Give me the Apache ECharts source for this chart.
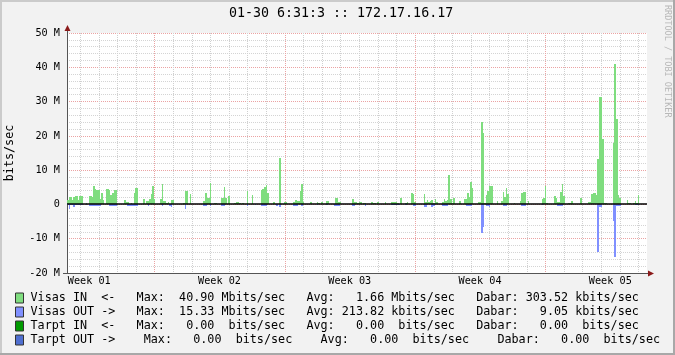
<!DOCTYPE html>
<html><head><meta charset="utf-8">
<script src="https://cdn.jsdelivr.net/npm/echarts@6/dist/echarts.min.js"></script>
<style>html,body{margin:0;padding:0;background:#f2f2f2}#c{width:675px;height:355px}</style>
</head><body><div id="c"></div>
<script>
// ---- data (2-hour averages, Mbits/sec) ----
const STEP_HOURS = 2;
const visasIn = [
1.2,2.1,2.1,1.4,2.1,2.4,2.4,1.4,2.4,2.4,
0,0,0.4,0,2.4,2.4,2.2,5.4,4.4,4.2,
4.2,1.6,3.2,1.2,0,4.5,4.5,4.1,2.7,3.2,
4.1,4.1,0,0,0,0,0,1.2,0.8,0.6,
0,0.4,0,3.2,4.8,4.8,0,0,0,1.5,
0,1.0,1.0,1.7,3.0,5.4,1.7,0,0,0,
1.7,6.0,1.0,1.0,0.5,0.7,0,1.4,1.4,0,
0,0,0,0,0,0.5,3.9,3.9,0,3.0,
0,0,0,0,0,0,0,0,0.9,3.2,
1.9,1.9,6.3,0,0,0.3,0.3,0,0,1.9,
1.9,5.1,1.9,0,2.6,0,0,0,0.5,0.8,
0.8,0.5,0,0.4,0.2,0,3.9,0,0,2.7,
0,0,0,0,0,4.2,4.4,5.2,5.8,3.2,
0,0,0,0.6,0,0,0,13.5,0,0,
0.6,0.6,0,0,0,0,0.8,1.4,1.0,1.0,
4.0,6.0,0.7,0,0,0,0,0.8,0,0,
0,0.6,0.3,0,0.7,0,0,0.9,0.9,0,
0,0,0,1.8,1.8,0.7,0.7,0,0,0,
0.2,0.2,0,0,1.5,0.7,0.7,0.4,0.7,0.7,
0,0.4,0.4,0,0,0,0.6,0.3,0.3,0,
0.6,0,0,0,0,0.6,0,0,0,0.6,
0.6,0.6,0.6,0.3,0,1.8,0,0,0.4,0.6,
0,0,3.3,3.0,0.7,0,0,0,0.2,0,
3.0,0.7,1.4,0.7,1.0,1.2,0.5,1.5,0.6,0,
0,0,0.6,1.6,0.9,1.3,8.6,1.7,0.4,1.8,
0,0,0,1.0,0,0,1.6,1.6,3.2,2.2,
6.5,4.9,0,0,0,0.7,0.7,24.1,20.7,0.5,
2.7,3.9,5.4,5.4,5.4,0,0,1.0,0,0,
1.0,3.6,2.2,4.8,3.0,0,0,0,0.3,0,
0,0,1.0,3.2,3.6,3.6,0,1.0,0,0,
0,0,0,0,0,0,1.6,1.9,5.3,0.5,
0,0,0,0,2.4,1.9,0.8,0.8,3.7,6.1,
2.5,0,0,0.3,0.3,1.0,0,0,0,0,
0,2.0,0,0,0,0,0.8,0.8,2.9,3.2,
3.2,2.7,13.2,31.2,31.2,19.0,0.5,0.5,0,0,
0,0,17.8,40.9,24.8,2.7,1.9,0,0,0,
0,1.3,0.3,0.3,0,0.5,1.0,0.5,2.7,0,
0,0,0,0
];
const visasOut = [
0.3,1.4,0.3,0.3,0.8,0.3,0.3,0.3,0.3,0.3,
0,0,0.3,0,0.5,0.5,0.5,0.5,0.5,0.5,
0.5,0.5,0,0,0,0,0,0.5,0.5,0.5,
0.5,0.5,0,0,0,0,0,0,0,0.5,
0.5,0.5,0.5,0.5,0.5,0.5,0,0,0,0,
0,0,0.4,0,0,0,0,0,0,0,
0,0.4,0,0,0,0,0.5,0.8,0,0,
0,0,0,0,0,0,1.4,0,0,0,
0,0,0,0,0,0,0,0,0.4,0.4,
0,0,0.4,0,0,0,0,0,0,0.5,
0.5,0.5,0,0,0,0,0,0,0,0,
0,0,0,0,0,0,0.4,0,0,0,
0,0.3,0,0,0,0.5,0.5,0.5,0.5,0,
0,0,0,0,0,0.4,0,0.8,0,0,
0,0,0,0,0,0,0.4,0.4,0.4,0,
0,0.4,0,0,0,0,0,0,0,0,
0,0.3,0,0,0,0,0,0.3,0,0,
0,0,0.4,0.4,0.4,0.4,0,0,0,0,
0,0,0,0,0.4,0.4,0,0,0,0,
0,0,0.4,0,0,0,0,0,0,0,
0,0,0,0,0,0,0,0,0,0.3,
0.3,0.3,0.3,0.3,0.3,0,0,0,0.3,0,
0,0,0,0.4,0.4,0,0,0,0,0,
0.8,0.8,0,0,0,0.8,0.4,0,0,0,
0,0,0.4,0.4,0.4,0.4,0,0,0,0,
0,0,0,0,0,0,0,0.4,0.4,0.4,
0.4,0,0,0,0,0,0,8.3,6.7,0,
0.4,0.4,0.7,0,0,0,0,0,0,0,
0,0.4,0.4,0.4,0,0,0,0,0,0,
0,0,0,0.4,0.4,0.4,0,0,0,0,
0,0,0,0,0,0,0.3,0,0,0,
0,0,0,0,0,0,0.4,0.4,0.4,0.4,
0,0,0,0,0,0,0,0,0,0,
0,0,0,0,0,0,0,0,0,0,
0,0,14.0,0.7,0.7,0,0,0,0,0,
0,0,4.8,15.33,0.4,0.4,0.4,0,0,0,
0,0,0,0,0,0,0.3,0.3,0.3,0,
0,0,0,0
];
const tarptIn = [];   // all zero in the period
const tarptOut = [];  // all zero in the period

// ---- axes / text ----
const TOTAL_HOURS = 748;
const weekLabels = ['Week 01','Week 02','Week 03','Week 04','Week 05'];
const weekMidHours = [28.7,196.7,364.7,532.7,700.7];
const weekBoundaryHours = [112.7,280.7,448.7,616.7];
const firstMidnightHour = 16.7;
const yMin = -20, yMax = 50, yStep = 10;
const titleText = '01-30 6:31:3 :: 172.17.16.17';
const yName = 'bits/sec';
const seriesNames = ['Visas IN','Visas OUT','Tarpt IN','Tarpt OUT'];
const legendRows = [
 'Visas IN  <-   Max:  40.90 Mbits/sec   Avg:   1.66 Mbits/sec   Dabar: 303.52 kbits/sec',
 'Visas OUT ->   Max:  15.33 Mbits/sec   Avg: 213.82 kbits/sec   Dabar:   9.05 kbits/sec',
 'Tarpt IN  <-   Max:   0.00  bits/sec   Avg:   0.00  bits/sec   Dabar:   0.00  bits/sec',
 'Tarpt OUT ->    Max:   0.00  bits/sec    Avg:   0.00  bits/sec    Dabar:   0.00  bits/sec'
];
const colors = ['#7fdd7f','#8090ff','#009a00','#4f6fd0'];
const watermark = 'RRDTOOL / TOBI OETIKER';

const dayLineHours = [];
for (let h = firstMidnightHour; h < TOTAL_HOURS; h += 24) dayLineHours.push(h);

const MONO = 'DejaVu Sans Mono';
const chart = echarts.init(document.getElementById('c'), null, {renderer: 'canvas'});

// one rectangle per 2-hour sample, snapped to whole pixels like rrdtool
function areaSeries(name, values, sign, color) {
  return {
    name, type: 'custom', silent: true, z: 3,
    itemStyle: {color},
    data: values.map((v, i) => [i * STEP_HOURS, sign * v]),
    renderItem: (params, api) => {
      const t = api.value(0), v = api.value(1);
      if (!v) return null;
      const p0 = api.coord([t, 0]);
      const p1 = api.coord([t + STEP_HOURS, v]);
      const x0 = Math.round(p0[0]), x1 = Math.round(p1[0]);
      const y0 = Math.round(p0[1]), y1 = Math.round(p1[1]);
      return {
        type: 'rect',
        shape: {x: x0, y: Math.min(y0, y1), width: x1 - x0, height: Math.abs(y1 - y0)},
        style: {fill: color}
      };
    }
  };
}

function vGridSeries(hours, color) {
  return {
    type: 'custom', silent: true, z: 1, clip: false,
    data: hours.map(h => [h]),
    renderItem: (params, api) => {
      const top = api.coord([api.value(0), yMax]);
      const bot = api.coord([api.value(0), yMin]);
      const x = Math.round(top[0]) + 0.5;
      return {
        type: 'line',
        shape: {x1: x, y1: top[1], x2: x, y2: bot[1]},
        style: {stroke: color, lineWidth: 1, lineDash: [1, 1]}
      };
    }
  };
}

const zeroRule = {
  type: 'custom', silent: true, z: 5, clip: false,
  data: [[0, 0]],
  renderItem: (params, api) => {
    const a = api.coord([0, 0]);
    const b = api.coord([TOTAL_HOURS, 0]);
    const y = Math.round(a[1]);
    return {type: 'line', shape: {x1: a[0], y1: y, x2: b[0], y2: y},
            style: {stroke: '#000', lineWidth: 1.5}};
  }
};

chart.setOption({
  animation: false,
  backgroundColor: '#f2f2f2',
  title: {
    text: titleText, left: 229, top: 7, padding: 0,
    textStyle: {fontFamily: MONO, fontSize: 13.3, fontWeight: 'normal', color: '#000'}
  },
  grid: {left: 67, right: 28, top: 33, bottom: 82, containLabel: false, outerBoundsMode: 'none',
         show: true, backgroundColor: '#ffffff', borderWidth: 0},
  legend: {
    orient: 'vertical', left: 15, top: 292, padding: 0, itemWidth: 8, itemHeight: 10, itemGap: 2,
    icon: 'rect', selectedMode: false, data: seriesNames,
    itemStyle: {borderColor: '#333', borderWidth: 1},
    textStyle: {fontFamily: MONO, fontSize: 11.75, color: '#000', lineHeight: 12, padding: [0, 0, 0, 2]},
    formatter: name => legendRows[seriesNames.indexOf(name)]
  },
  xAxis: {
    type: 'value', min: 0, max: TOTAL_HOURS,
    axisLine: {show: true, onZero: false, lineStyle: {color: '#555', width: 1}},
    axisTick: {show: false, customValues: weekMidHours},
    axisLabel: {
      customValues: weekMidHours, margin: 3,
      fontFamily: MONO, fontSize: 10.2, color: '#000',
      formatter: v => {
        const i = weekMidHours.findIndex(w => Math.abs(w - v) < 0.01);
        return i >= 0 ? weekLabels[i] : '';
      }
    },
    splitLine: {show: false}
  },
  yAxis: {
    type: 'value', min: yMin, max: yMax, interval: yStep,
    name: yName, nameLocation: 'middle', nameRotate: 90, nameGap: 51,
    nameTextStyle: {fontFamily: MONO, fontSize: 11.75, color: '#000'},
    axisLine: {show: true, lineStyle: {color: '#555', width: 1}},
    axisTick: {show: false},
    axisLabel: {
      margin: 7, fontFamily: MONO, fontSize: 10.2, color: '#000',
      formatter: v => v === 0 ? '0' : v + ' M'
    },
    splitLine: {show: true, lineStyle: {color: '#eba3a3', width: 1, type: [1, 1]}},
    minorTick: {show: false, splitNumber: 5},
    minorSplitLine: {show: true, lineStyle: {color: '#d4d4d4', width: 1, type: [1, 1]}}
  },
  series: [
    vGridSeries(dayLineHours, '#d0d0d0'),
    vGridSeries(weekBoundaryHours, '#eba3a3'),
    areaSeries(seriesNames[0], visasIn, 1, colors[0]),
    areaSeries(seriesNames[1], visasOut, -1, colors[1]),
    areaSeries(seriesNames[2], tarptIn, 1, colors[2]),
    areaSeries(seriesNames[3], tarptOut, -1, colors[3]),
    zeroRule
  ],
  graphic: [
    {type: 'rect', shape: {x: 0, y: 0, width: 675, height: 2}, style: {fill: '#cbcbcb'}, silent: true},
    {type: 'rect', shape: {x: 0, y: 0, width: 2, height: 355}, style: {fill: '#cbcbcb'}, silent: true},
    {type: 'rect', shape: {x: 0, y: 353, width: 675, height: 2}, style: {fill: '#a8a8a8'}, silent: true},
    {type: 'rect', shape: {x: 673, y: 0, width: 2, height: 355}, style: {fill: '#a8a8a8'}, silent: true},
    {type: 'line', shape: {x1: 67.5, y1: 30, x2: 67.5, y2: 33}, style: {stroke: '#555', lineWidth: 1}, silent: true},
    {type: 'line', shape: {x1: 647, y1: 273.5, x2: 649, y2: 273.5}, style: {stroke: '#555', lineWidth: 1}, silent: true},
    {type: 'line', shape: {x1: 63, y1: 273.5, x2: 67, y2: 273.5}, style: {stroke: '#555', lineWidth: 1}, silent: true},
    {type: 'polygon', shape: {points: [[64.5, 31], [70.5, 31], [67.5, 25]]}, style: {fill: '#8b1a1a'}, silent: true},
    {type: 'polygon', shape: {points: [[648, 270.5], [648, 276.5], [654, 273.5]]}, style: {fill: '#8b1a1a'}, silent: true},
    {type: 'text', x: 667, y: 5, rotation: -Math.PI / 2,
     style: {text: watermark, fill: '#b8b8b8', font: '8.5px "DejaVu Sans Mono"', align: 'left', verticalAlign: 'middle'}, silent: true}
  ]
});
</script>
</body></html>
